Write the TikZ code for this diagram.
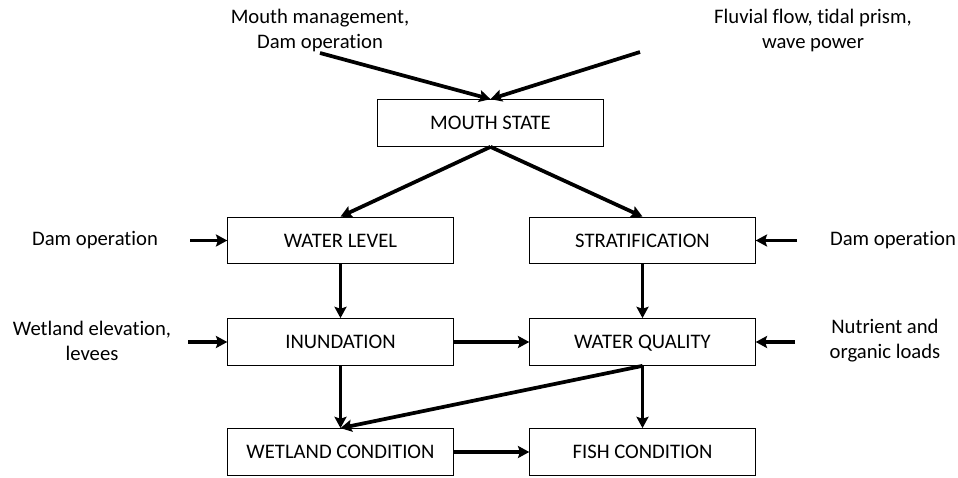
\documentclass[tikz,border=0pt]{standalone}
\usepackage{fontspec}
\setmainfont{Carlito}[Ligatures=NoCommon]
\usetikzlibrary{arrows.meta}

\begin{document}
\begin{tikzpicture}[x=0.75pt, y=-0.75pt,
  every node/.style={font=\fontsize{15.5}{18.75}\selectfont},
  box/.style={rectangle, draw=black, line width=0.8pt, minimum width=169pt, minimum height=35pt, inner sep=0pt, text height=9.8pt, text depth=0pt},
  lbl/.style={align=center, inner sep=0pt},
  link/.style={line width=2.8pt, -{Stealth[length=8.5pt, width=9pt, inset=1.5pt]}}]

  \useasboundingbox (0,0) rectangle (958,478);

  % State boxes

  \node [box] (mouth) at (490.5,123) {MOUTH STATE};
  \node [box] (wlevel) at (340.5,240.5) {WATER LEVEL};
  \node [box] (strat) at (642.5,240.5) {STRATIFICATION};
  \node [box] (inund) at (340.5,342) {INUNDATION};
  \node [box] (wqual) at (642.5,342) {WATER QUALITY};
  \node [box] (wetcond) at (340.5,452) {WETLAND CONDITION};
  \node [box] (fish) at (642.5,452) {FISH CONDITION};

  % Drivers

  \node [lbl] (mgmt) at (320,30) {Mouth management,\\Dam operation};
  \node [lbl] (flow) at (813,30) {Fluvial flow, tidal prism,\\wave power};
  \node [lbl] (damleft) at (95,240) {Dam operation};
  \node [lbl] (elev) at (92,341) {Wetland elevation,\\levees};
  \node [lbl] (damright) at (893,240) {Dam operation};
  \node [lbl] (loads) at (885,341) {Nutrient and\\organic loads};

  \coordinate (mgmtend) at (320,53);
  \coordinate (flowend) at (640,52);
  \coordinate (damleftend) at (190,240.5);
  \coordinate (elevend) at (188,342);
  \coordinate (damrightend) at (797,240.5);
  \coordinate (loadsend) at (795,342);

  % Connections of drivers to states

  \draw [link] (mgmtend) -- (mouth.north);
  \draw [link] (flowend) -- (mouth.north);
  \draw [link] (damleftend) -- (wlevel.west);
  \draw [link] (elevend) -- (inund.west);
  \draw [link] (damrightend) -- (strat.east);
  \draw [link] (loadsend) -- (wqual.east);

  % Connections between states

  \draw [link] (mouth.south) -- (wlevel.north);
  \draw [link] (mouth.south) -- (strat.north);
  \draw [link] (wlevel) -- (inund);
  \draw [link] (strat) -- (wqual);
  \draw [link] (inund) -- (wqual);
  \draw [link] (inund) -- (wetcond);
  \draw [link] (wqual.south) -- (wetcond.north);
  \draw [link] (wqual) -- (fish);
  \draw [link] (wetcond) -- (fish);

\end{tikzpicture}
\end{document}
